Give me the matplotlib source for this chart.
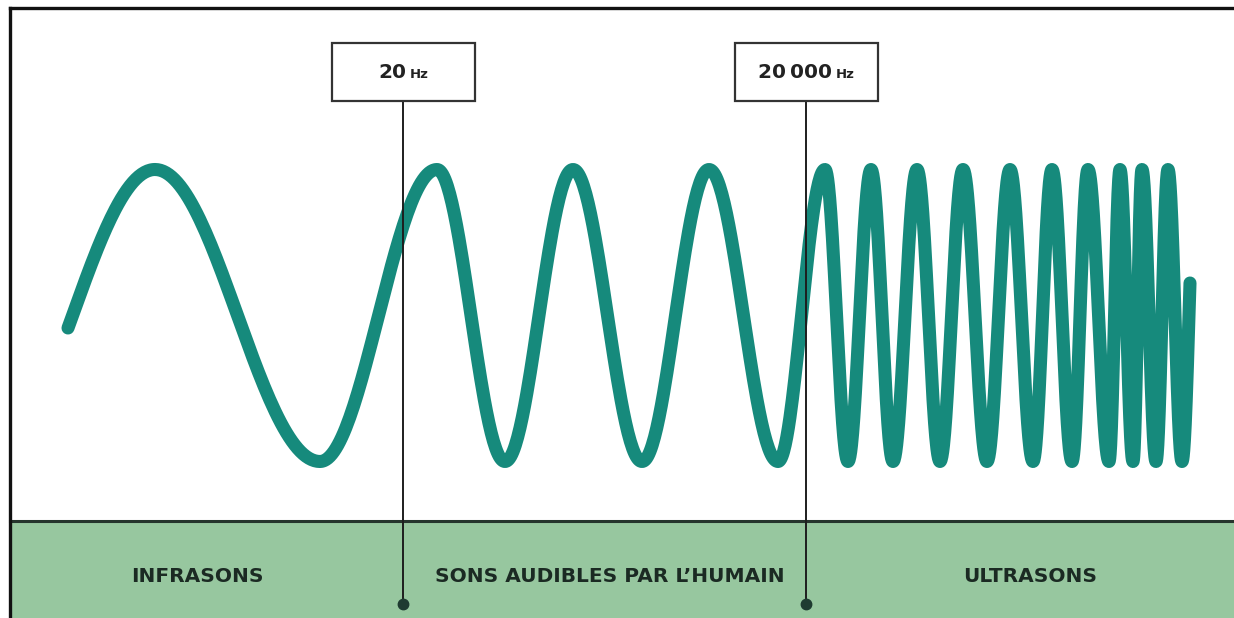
import numpy as np
import matplotlib.pyplot as plt

# canvas units = pixels of the 1234x618 picture, y grows downward
W, H = 1234, 618

# wave: x of the successive extrema (peak, trough, peak, ...)
extrema_x = [155, 320, 437, 505, 573, 642, 709, 778,
             825, 848, 871, 893, 917, 940, 963, 987, 1010, 1033,
             1052, 1072, 1088, 1109, 1120, 1133, 1142, 1156, 1168, 1182]
wave_start_x = 68
wave_end_x = 1190
peak_y = 169.5
trough_y = 461.5

# frequency limits
limit_labels = ["20", "20\u2009000"]
limit_x = [403, 806]

# bands under the wave
band_labels = ["INFRASONS", "SONS AUDIBLES PAR L\u2019HUMAIN", "ULTRASONS"]
band_centers = [197, 610, 1030]

TEAL = '#168a7c'
BAND = '#97c79f'
INK = '#1b2a23'


def build_wave(ex, x0, x1, n=60):
    mid = (peak_y + trough_y) / 2
    amp = (trough_y - peak_y) / 2
    xs, ys = [], []
    # first partial half cycle (rising towards the first peak)
    half = ex[1] - ex[0]
    t = np.linspace(x0, ex[0], n)
    xs.append(t)
    ys.append(mid - amp * np.cos(np.pi * (t - ex[0]) / half))
    for i in range(len(ex) - 1):
        t = np.linspace(ex[i], ex[i + 1], n)
        sign = -1 if i % 2 == 0 else 1   # peak -> trough, trough -> peak
        ys.append(mid + sign * amp * np.cos(np.pi * (t - ex[i]) / (ex[i + 1] - ex[i])))
        xs.append(t)
    # last partial half cycle after the final trough
    half = ex[-1] - ex[-2]
    t = np.linspace(ex[-1], x1, n)
    xs.append(t)
    ys.append(mid + amp * np.cos(np.pi * (t - ex[-1]) / half))
    return np.concatenate(xs), np.concatenate(ys)


fig = plt.figure(figsize=(W / 100, H / 100), dpi=100)
ax = fig.add_axes([0, 0, 1, 1])
ax.set_xlim(0, W)
ax.set_ylim(H, 0)
ax.axis('off')

# green band and frame
band_top = 521
ax.fill_between([10, W], band_top, H, color=BAND, zorder=1)
ax.plot([10, W], [band_top, band_top], color='#26352d', lw=2.2, zorder=2)
ax.plot([10, 10], [H, 8], color='#111111', lw=2.4, zorder=5, solid_capstyle='projecting')
ax.plot([10, W], [8, 8], color='#111111', lw=2.4, zorder=5, solid_capstyle='projecting')

# wave
wx, wy = build_wave(extrema_x, wave_start_x, wave_end_x)
ax.plot(wx, wy, color=TEAL, lw=9.4, solid_capstyle='round', solid_joinstyle='round', zorder=3)

# limit markers with boxes
fig.canvas.draw()
renderer = fig.canvas.get_renderer()
for lab, x in zip(limit_labels, limit_x):
    ax.plot([x, x], [101, 604], color='#1e1e1e', lw=1.4, zorder=4)
    ax.plot([x], [604], 'o', color='#1f3b31', ms=7.5, zorder=4)
    ax.add_patch(plt.Rectangle((x - 71, 43), 143, 58, facecolor='white',
                               edgecolor='#333333', lw=1.6, zorder=4))
    num = ax.text(0, 73, lab, ha='left', va='center', fontsize=14.5,
                  fontweight='bold', color='#222222', zorder=5)
    unit = ax.text(0, 74, 'Hz', ha='left', va='center', fontsize=9.5,
                   fontweight='bold', color='#222222', zorder=5)
    w_num = num.get_window_extent(renderer).width
    w_unit = unit.get_window_extent(renderer).width
    gap = 4
    left = x + 0.5 - (w_num + gap + w_unit) / 2
    num.set_x(left)
    unit.set_x(left + w_num + gap)

# band labels
for lab, cx in zip(band_labels, band_centers):
    ax.text(cx, 577, lab, ha='center', va='center', fontsize=14.5,
            fontweight='bold', color=INK, zorder=5)

fig.savefig('out.png', dpi=100)
